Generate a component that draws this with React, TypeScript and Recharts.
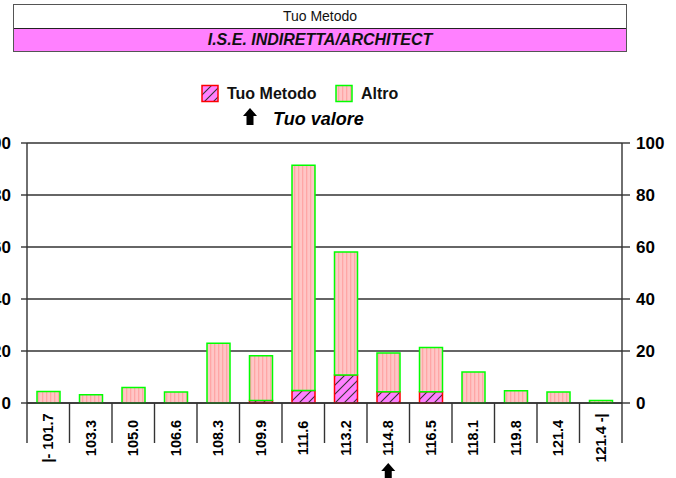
import React from 'react';
import { ComposedChart, Bar, Line, XAxis, YAxis, CartesianGrid, Legend } from 'recharts';

const categories = [
  '|- 101.7', '103.3', '105.0', '106.6', '108.3', '109.9', '111.6',
  '113.2', '114.8', '116.5', '118.1', '119.8', '121.4', '121.4 -|',
];
const tuoMetodo = [0, 0, 0, 0, 0, 1.0, 4.8, 10.8, 4.3, 4.3, 0, 0, 0, 0];
const altro = [4.4, 3.2, 6.0, 4.2, 23.0, 17.2, 86.6, 47.3, 14.9, 17.0, 11.9, 4.7, 4.2, 1.0];
const yTicks = [0, 20, 40, 60, 80, 100];
const userCategory = '114.8';

const series = [
  { key: 'tuo', name: 'Tuo Metodo', fill: 'url(#hatchTuo)', stroke: '#FF0000' },
  { key: 'altro', name: 'Altro', fill: 'url(#stripeAltro)', stroke: '#00FF00' },
];

const data = categories.map((name, i) => ({ name, tuo: tuoMetodo[i], altro: altro[i] }));

const W = 676;
const H = 478;
const LEFT_AXIS_W = 27;
const RIGHT_AXIS_W = 54;
const BAND = (W - LEFT_AXIS_W - RIGHT_AXIS_W) / categories.length;
const FONT = '"Liberation Sans", Arial, sans-serif';
const LINE = '#333333';

const Arrow = ({ cx, top }: { cx: number; top: number }) => (
  <path
    d={`M${cx},${top} L${cx + 7},${top + 8} L${cx + 3.5},${top + 8} L${cx + 3.5},${top + 17} L${cx - 3.5},${top + 17} L${cx - 3.5},${top + 8} L${cx - 7},${top + 8} Z`}
    fill="#000"
  />
);

const CategoryTick = (props: any) => {
  const { x, y, payload } = props;
  const idx = payload.index ?? props.index;
  const half = BAND / 2;
  return (
    <g>
      <line x1={x - half} x2={x - half} y1={y} y2={y + 40} stroke={LINE} strokeWidth={1.4} />
      {idx === categories.length - 1 && (
        <line x1={x + half} x2={x + half} y1={y} y2={y + 40} stroke={LINE} strokeWidth={1.4} />
      )}
      <text
        transform={`translate(${x + 5},${y + 35}) rotate(-90)`}
        textAnchor="middle"
        fontSize={14.5}
        fontWeight="bold"
        fontFamily={FONT}
        fill="#000"
      >
        {payload.value}
      </text>
      {payload.value === userCategory && <Arrow cx={x} top={y + 60} />}
    </g>
  );
};

const LeftTick = (props: any) => (
  <text x={props.x} y={props.y} dy="0.35em" textAnchor="end" fontSize={17} fontWeight="bold" fontFamily={FONT} fill="#000">
    {props.payload.value}
  </text>
);

const RightTick = (props: any) => (
  <text x={props.x} y={props.y} dy="0.35em" textAnchor="start" fontSize={17} fontWeight="bold" fontFamily={FONT} fill="#000">
    {props.payload.value}
  </text>
);

const legendX = [202, 336];

const LegendContent = () => (
  <svg width={W} height={130} style={{ display: 'block' }}>
    {series.map((s, i) => (
      <g key={s.key}>
        <rect x={legendX[i]} y={85.5} width={16} height={16} fill={s.fill} stroke={s.stroke} strokeWidth={1.5} />
        <text x={legendX[i] + 25} y={99} fontSize={16} fontWeight="bold" fontFamily={FONT} fill="#111">
          {s.name}
        </text>
      </g>
    ))}
    <Arrow cx={250} top={108} />
    <text x={273} y={125} fontSize={18} fontWeight="bold" fontStyle="italic" fontFamily={FONT} fill="#000">
      Tuo valore
    </text>
  </svg>
);

export default function App() {
  return (
    <div style={{ position: 'absolute', left: 0, top: 0, width: W, height: H, background: '#fff', overflow: 'hidden' }}>
      <div
        style={{
          position: 'absolute',
          left: 13,
          top: 4,
          width: 614,
          height: 48,
          boxSizing: 'border-box',
          border: '1px solid #555',
          fontFamily: FONT,
          textAlign: 'center',
        }}
      >
        <div style={{ height: 23, lineHeight: '23px', fontSize: 14, borderBottom: '1px solid #222', color: '#111' }}>
          Tuo Metodo
        </div>
        <div style={{ height: 22, lineHeight: '22px', fontSize: 16, fontWeight: 'bold', fontStyle: 'italic', background: '#FF80FF', color: '#111' }}>
          I.S.E. INDIRETTA/ARCHITECT
        </div>
      </div>
      <ComposedChart width={W} height={H} data={data} margin={{ top: 143, right: 0, bottom: 0, left: 0 }} barSize={23}>
        <defs>
          <pattern id="hatchTuo" patternUnits="userSpaceOnUse" width={9} height={9}>
            <rect width={9} height={9} fill="#FF80FF" />
            <path d="M0,9 L9,0 M-2,2 L2,-2 M7,11 L11,7" stroke="#333" strokeWidth={1.1} />
          </pattern>
          <pattern id="stripeAltro" patternUnits="userSpaceOnUse" width={4} height={4}>
            <rect width={4} height={4} fill="#FFC6C6" />
            <rect x={2} width={1.3} height={4} fill="#FFA6A6" />
          </pattern>
        </defs>
        <CartesianGrid yAxisId="left" vertical={false} stroke={LINE} strokeWidth={1.4} />
        <XAxis
          dataKey="name"
          height={75}
          interval={0}
          tickSize={0}
          tickMargin={0}
          tickLine={false}
          axisLine={{ stroke: LINE, strokeWidth: 1.4 }}
          tick={<CategoryTick />}
        />
        <YAxis
          yAxisId="left"
          orientation="left"
          width={LEFT_AXIS_W}
          domain={[0, 100]}
          ticks={yTicks}
          tickSize={6}
          tickMargin={10}
          tickLine={{ stroke: LINE, strokeWidth: 1.4 }}
          axisLine={{ stroke: LINE, strokeWidth: 1.4 }}
          tick={<LeftTick />}
        />
        <YAxis
          yAxisId="right"
          orientation="right"
          width={RIGHT_AXIS_W}
          domain={[0, 100]}
          ticks={yTicks}
          tickSize={8}
          tickMargin={6}
          tickLine={{ stroke: LINE, strokeWidth: 1.4 }}
          axisLine={{ stroke: LINE, strokeWidth: 1.4 }}
          tick={<RightTick />}
        />
        <Legend
          verticalAlign="middle"
          align="center"
          layout="horizontal"
          content={<LegendContent />}
          wrapperStyle={{ top: 0, left: 0, width: W, height: 130 }}
        />
        {series.map((s) => (
          <Bar
            key={s.key}
            yAxisId="left"
            dataKey={s.key}
            name={s.name}
            stackId="a"
            fill={s.fill}
            stroke={s.stroke}
            strokeWidth={1.5}
            isAnimationActive={false}
          />
        ))}
        {/* carrier so the right axis gets its scale and ticks */}
        <Line
          yAxisId="right"
          dataKey="altro"
          stroke="none"
          dot={false}
          activeDot={false}
          legendType="none"
          isAnimationActive={false}
        />
      </ComposedChart>
    </div>
  );
}
